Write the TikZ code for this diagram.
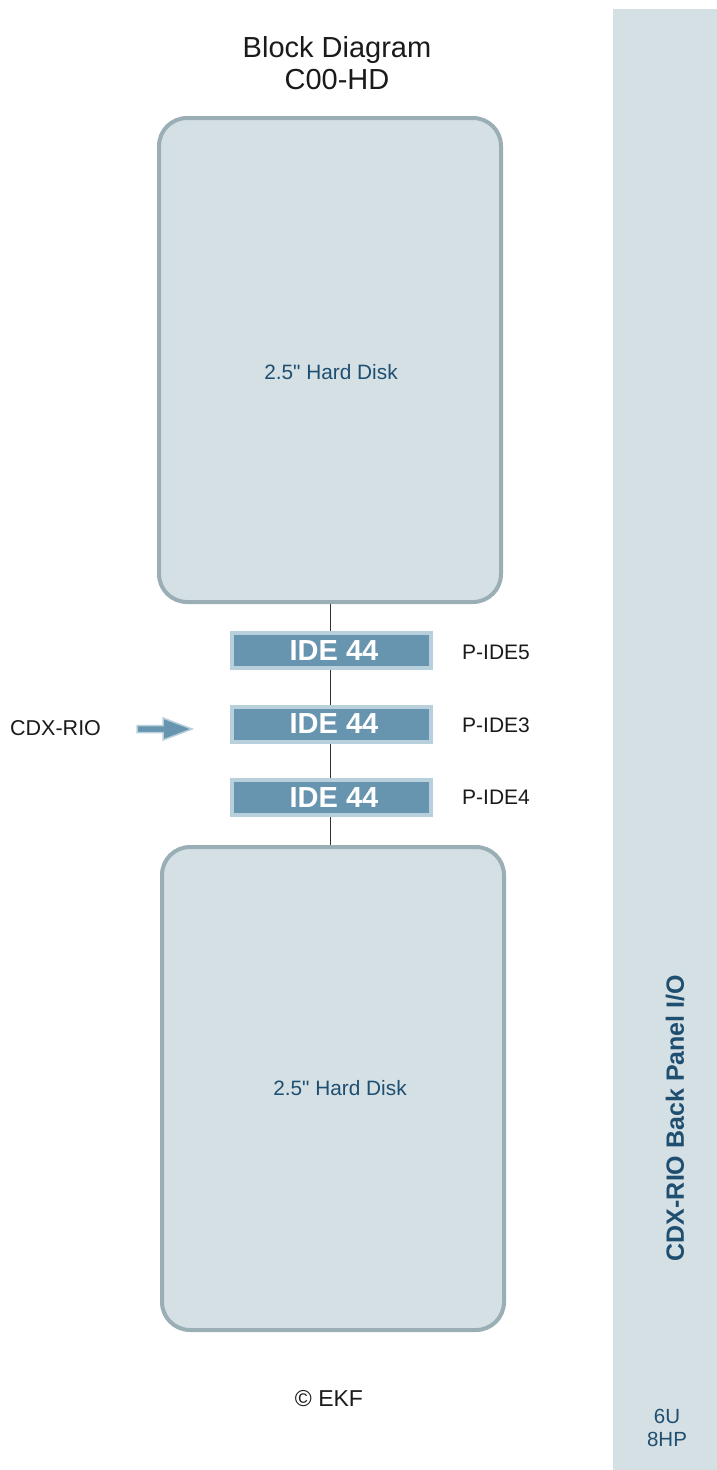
\documentclass[tikz,border=0pt]{standalone}
\usepackage{fontspec}
\setmainfont{Liberation Sans}[Ligatures=TeXOff]
\usetikzlibrary{backgrounds}
\definecolor{panelfill}{RGB}{213,224,229}
\definecolor{diskedge}{RGB}{154,174,181}
\definecolor{idefill}{RGB}{103,149,176}
\definecolor{ideedge}{RGB}{184,207,220}
\definecolor{darkblue}{RGB}{30,78,112}
\definecolor{inktext}{RGB}{26,26,26}
\definecolor{wire}{RGB}{50,50,50}
\tikzset{
  disk/.style={draw=diskedge, fill=panelfill, line width=4pt, rounded corners=28pt,
    minimum width=342pt, inner sep=0pt},
  disklabel/.style={font=\fontsize{20.8}{24}\selectfont, text=darkblue, inner sep=0pt},
  ide/.style={draw=ideedge, fill=idefill, line width=4pt, minimum width=199pt,
    minimum height=35pt, inner sep=0pt, text=white,
    font=\fontsize{29}{30}\selectfont\bfseries},
  portlabel/.style={anchor=west, text=inktext, font=\fontsize{21}{24}\selectfont, inner sep=0pt},
  plain/.style={text=inktext, inner sep=0pt},
}
\begin{document}
\begin{tikzpicture}[x=1pt,y=-1pt]
\useasboundingbox (0,0) rectangle (717,1470);
% back panel strip
\fill[panelfill] (613,9) rectangle (717,1470);
\node[rotate=90, text=darkblue, font=\fontsize{25}{28}\selectfont\bfseries, inner sep=0pt]
  (panel) at (675,1118) {CDX-RIO Back Panel I/O};
\node[text=darkblue, font=\fontsize{20.5}{23}\selectfont, align=center, inner sep=0pt]
  (size) at (667,1428) {6U\\8HP};
% title
\node[plain, font=\fontsize{29}{32}\selectfont, align=center] (title) at (337,63)
  {Block Diagram\\C00-HD};
% hard disks
\node[disk, minimum height=484pt] (disk1) at (330,360) {};
\node[disklabel] (disk1text) at (331,372) {2.5" Hard Disk};
\node[disk, minimum height=483pt] (disk2) at (333,1088.5) {};
\node[disklabel] (disk2text) at (340,1088) {2.5" Hard Disk};
% IDE connectors
\node[ide] (ide5) at (331.5,650.5) {\hspace*{5pt}IDE 44};
\node[ide] (ide3) at (331.5,724) {\hspace*{5pt}IDE 44};
\node[ide] (ide4) at (331.5,797.5) {\hspace*{5pt}IDE 44};
\begin{scope}[on background layer]
  \draw[wire, line width=0.9pt] (disk1.south) -- (disk1.south |- disk2.north);
\end{scope}
% connector names
\node[portlabel] (p5) at (462,652) {P-IDE5};
\node[portlabel] (p3) at (462,725) {P-IDE3};
\node[portlabel] (p4) at (462,797) {P-IDE4};
% CDX-RIO input
\node[portlabel, font=\fontsize{21.5}{24}\selectfont] (rio) at (10,728) {CDX-RIO};
\draw[fill=idefill, draw=ideedge, line width=1.5pt, line join=miter]
  (137,725.5) -- (163,725.5) -- (163,718) -- (192,729) -- (163,740)
  -- (163,732.5) -- (137,732.5) -- cycle;
% copyright
\node[plain, font=\fontsize{23}{26}\selectfont] (ekf) at (329,1399) {© EKF};
\end{tikzpicture}
\end{document}
